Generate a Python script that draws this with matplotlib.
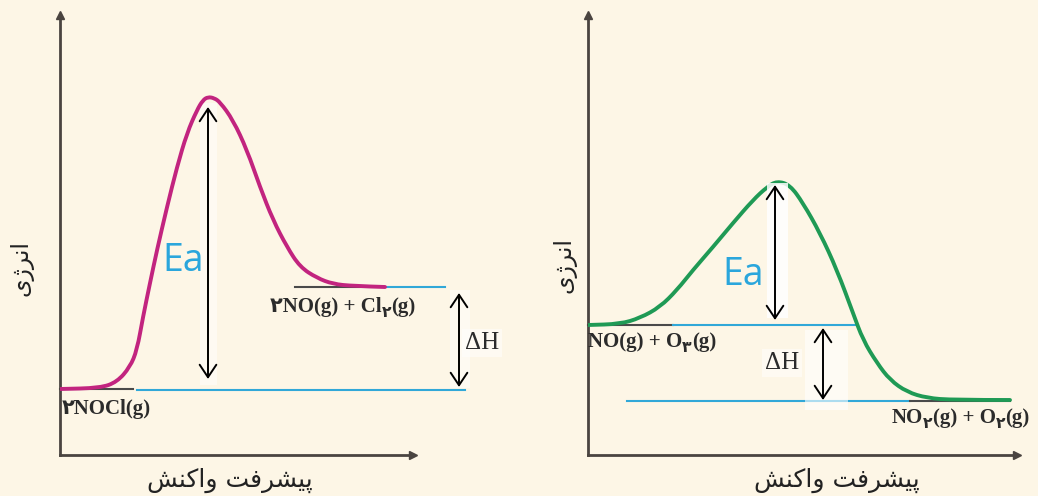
import numpy as np
import matplotlib.pyplot as plt
from matplotlib.patches import Rectangle, PathPatch
from matplotlib.path import Path

BG = '#fdf6e6'
AXIS_C = '#4a4440'
BLUE = '#31a8d8'
EA_C = '#2aa6dc'
LEVEL_C = '#4a4a4a'
TXT_C = '#2b2b2b'

# Persian text in visual (left-to-right) order, using presentation forms
XLABEL = '\uFEB6\uFEE8\uFB90\uFE8D\uFEED \uFE96\uFED3\uFEAE\uFEB8\uFBFF\uFB58'
YLABEL = '\uFBFC\uFB8A\uFEAE\uFEE7\uFE8D'

# ---- left panel: 2NOCl -> 2NO + Cl2 (endothermic) ----
left_x = [0, 40, 57, 70, 77, 83, 90, 97, 107, 117, 127, 137, 143, 148, 154,
          160, 173, 187, 200, 213, 227, 240, 257, 273, 293, 325]
left_y = [66, 67, 73, 88, 105, 138, 172, 205, 248, 288, 322, 345, 355, 358, 357,
          353, 335, 305, 268, 235, 208, 188, 177, 171, 169, 168]
left_react = 66
left_prod = 168
left_react_lab = [('\u06F2NOCl(g)', False)]
left_prod_lab = [('\u06F2NO(g) + Cl', False), ('\u06F2', True), ('(g)', False)]

# ---- right panel: NO + O3 -> NO2 + O2 (exothermic) ----
right_x = [0, 32, 52, 72, 89, 105, 125, 145, 165, 179, 189, 202, 215, 232,
           249, 265, 275, 289, 302, 319, 339, 365, 422]
right_y = [130, 131, 137, 148, 165, 185, 208, 232, 255, 268, 274, 270, 252, 222,
           185, 142, 115, 92, 75, 63, 57, 55, 55]
right_react = 130
right_prod = 54
right_react_lab = [('NO(g) + O', False), ('\u06F3', True), ('(g)', False)]
right_prod_lab = [('NO', False), ('\u06F2', True), ('(g) + O', False),
                  ('\u06F2', True), ('(g)', False)]

fig = plt.figure(figsize=(10.38, 4.96), dpi=100, facecolor=BG)
W, H = 1038, 496


def make_axes(x0, x1):
    ax = fig.add_axes([x0 / W, 41 / H, (x1 - x0) / W, 440 / H])
    ax.set_xlim(0, x1 - x0)
    ax.set_ylim(0, 440)
    ax.patch.set_alpha(0)
    for s in ['top', 'right']:
        ax.spines[s].set_visible(False)
    for s in ['left', 'bottom']:
        ax.spines[s].set_color(AXIS_C)
        ax.spines[s].set_linewidth(2)
    ax.set_xticks([])
    ax.set_yticks([])
    ax.plot(1, 0, '>', color=AXIS_C, ms=6, transform=ax.transAxes, clip_on=False)
    ax.plot(0, 1, '^', color=AXIS_C, ms=6, transform=ax.transAxes, clip_on=False)
    return ax


def smooth_curve(ax, xs, ys, color, z):
    # quadratic bezier through midpoints of the read points
    pts = np.column_stack([xs, ys]).astype(float)
    mids = (pts[1:-2] + pts[2:-1]) / 2
    verts = [pts[0], (pts[0] + pts[1]) / 2]
    codes = [Path.MOVETO, Path.LINETO]
    for p, m in zip(pts[1:-2], mids):
        verts += [p, m]
        codes += [Path.CURVE3, Path.CURVE3]
    verts += [pts[-2], pts[-1]]
    codes += [Path.CURVE3, Path.CURVE3]
    ax.add_patch(PathPatch(Path(verts, codes), facecolor='none', edgecolor=color,
                           lw=2.8, zorder=z, capstyle='round', joinstyle='round'))


def level(ax, x0, x1, y, color):
    ax.plot([x0, x1], [y, y], color=color, lw=1.5, zorder=1, clip_on=False)


def chem(ax, x, y, parts, size=15):
    fam = ['Liberation Serif', 'DejaVu Sans']
    first = ax.text(x, y, parts[0][0], fontsize=size, fontweight='bold',
                    family=fam, color=TXT_C, va='bottom', ha='left', zorder=6,
                    clip_on=False)
    prev = first
    for s, sub in parts[1:]:
        prev = ax.annotate(s, xy=(1, 0), xycoords=(prev, first),
                           xytext=(0, -3 if sub else 0), textcoords='offset points',
                           fontsize=size * 0.75 if sub else size, fontweight='bold',
                           family=fam, color=TXT_C, va='bottom', ha='left', zorder=6,
                           annotation_clip=False)


def dbl_arrow(ax, x, y0, y1):
    ax.annotate('', xy=(x, y0), xytext=(x, y1), annotation_clip=False,
                arrowprops=dict(arrowstyle='<->,head_length=0.45,head_width=0.3',
                                color='black', lw=1.4, shrinkA=0, shrinkB=0,
                                mutation_scale=20), zorder=5)


def band(ax, x0, x1, y0, y1, z, a=0.5):
    ax.add_patch(Rectangle((x0, y0), x1 - x0, y1 - y0, facecolor='white',
                           edgecolor='none', alpha=a, zorder=z, clip_on=False))


def delta_h(ax, x, y):
    ax.text(x, y, '\u0394H', fontsize=18, family='Liberation Serif', color=TXT_C,
            ha='center', va='center', zorder=6, clip_on=False,
            bbox=dict(facecolor='white', edgecolor='none', alpha=0.5, pad=2))


def axis_labels(ax, xl, yl):
    ax.text(xl[0], xl[1], XLABEL, fontsize=18, family='DejaVu Sans', color='#222222',
            ha='center', va='center', clip_on=False)
    ax.text(yl[0], yl[1], YLABEL, fontsize=17, family='DejaVu Sans', color='#222222',
            ha='center', va='center', rotation=90, clip_on=False)


# left
axl = make_axes(60, 413)
level(axl, 0, 73, left_react, LEVEL_C)
level(axl, 77, 405, left_react - 1, BLUE)
level(axl, 235, 325, left_prod, LEVEL_C)
level(axl, 325, 385, left_prod, BLUE)
band(axl, 140, 157, 70, 352, 2)
band(axl, 390, 410, 67, 165, 2)
smooth_curve(axl, left_x, left_y, '#c2247f', 3)
dbl_arrow(axl, 148, 348, 76)
dbl_arrow(axl, 399, 162, 68)
axl.text(123, 194, 'Ea', color=EA_C, fontsize=27, family='Open Sans',
         ha='center', va='center', zorder=6)
delta_h(axl, 422, 112)
chem(axl, 2, 36, left_react_lab)
chem(axl, 210, 138, left_prod_lab)
axis_labels(axl, (170, -25), (-39, 187))

# right
axr = make_axes(588, 1017)
level(axr, 0, 85, right_react, LEVEL_C)
level(axr, 85, 267, right_react, BLUE)
level(axr, 39, 322, right_prod, BLUE)
level(axr, 322, 422, right_prod, LEVEL_C)
smooth_curve(axr, right_x, right_y, '#1f9a55', 3)
band(axr, 179, 200, 137, 272, 4, 0.85)
band(axr, 217, 260, 45, 125, 4, 0.6)
dbl_arrow(axr, 187, 270, 135)
dbl_arrow(axr, 235, 127, 55)
axr.text(155, 180, 'Ea', color=EA_C, fontsize=27, family='Open Sans',
         ha='center', va='center', zorder=6)
delta_h(axr, 194, 92)
chem(axr, 0, 103, right_react_lab)
chem(axr, 304, 27, right_prod_lab)
axis_labels(axr, (249, -25), (-23, 190))

fig.savefig('out.png', dpi=100, facecolor=BG)
